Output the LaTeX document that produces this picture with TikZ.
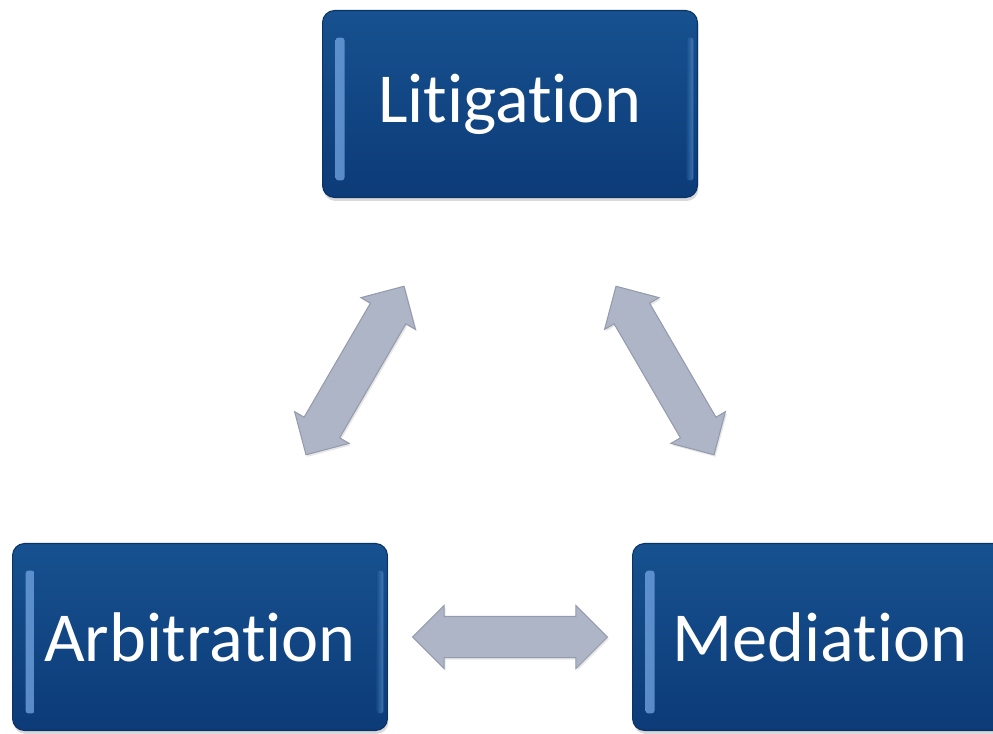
\documentclass[tikz,border=0pt]{standalone}
\usepackage{fontspec}
\setmainfont{Carlito}[Ligatures=NoCommon]
\usetikzlibrary{shapes.arrows,shadows,calc}

\definecolor{boxtop}{HTML}{17518F}
\definecolor{boxbot}{HTML}{0C3B78}
\definecolor{boxedge}{HTML}{0A3366}
\definecolor{hilite}{HTML}{78AAE6}
\definecolor{arrowfill}{HTML}{AEB5C7}
\definecolor{arrowedge}{HTML}{949BAD}

\tikzset{
  stagebox/.style={rectangle, rounded corners=0.24cm, draw=boxedge, line width=0.6pt,
    top color=boxtop, bottom color=boxbot,
    minimum width=7.5cm, minimum height=3.74cm, inner sep=0pt,
    text=white, font=\fontsize{40}{48}\selectfont,
    drop shadow={opacity=0.3, shadow xshift=0.02cm, shadow yshift=-0.07cm},
    path picture={
      % light edge on the left and on the right
      \shade[left color=hilite, right color=boxtop, rounded corners=0.06cm, opacity=0.75]
        ($(path picture bounding box.north west)+(0.26cm,-0.54cm)$) rectangle
        ($(path picture bounding box.south west)+(0.44cm,0.34cm)$);
      \shade[left color=boxtop, right color=hilite!80!boxtop, rounded corners=0.06cm, opacity=0.6]
        ($(path picture bounding box.north east)+(-0.22cm,-0.54cm)$) rectangle
        ($(path picture bounding box.south east)+(-0.08cm,0.34cm)$);
    }},
  dblarrow/.style={double arrow, draw=arrowedge, fill=arrowfill, line width=0.6pt,
    minimum height=3.9cm, minimum width=1.24cm, inner xsep=0pt, inner ysep=0.4cm,
    double arrow head extend=0.22cm, double arrow tip angle=90,
    drop shadow={opacity=0.2, shadow xshift=0.03cm, shadow yshift=-0.04cm}}
}

\begin{document}
\begin{tikzpicture}[x=0.02cm, y=-0.02cm]
    \useasboundingbox (0,0) rectangle (993,733);
    \clip (0,0) rectangle (993,733); % Mediation runs off the right edge

    \node[stagebox] (lit) at (510,104) {Litigation};
    \node[stagebox] (arb) at (200,637) {Arbitration};
    \node[stagebox] (med) at (820,637) {Mediation};

    % two-way block arrows half way between the boxes
    \path (arb.center) -- (lit.center) node[dblarrow, midway, sloped] (arblit) {};
    \path (lit.center) -- (med.center) node[dblarrow, midway, sloped] (litmed) {};
    \path (arb.center) -- (med.center) node[dblarrow, midway, sloped] (arbmed) {};
\end{tikzpicture}
\end{document}
